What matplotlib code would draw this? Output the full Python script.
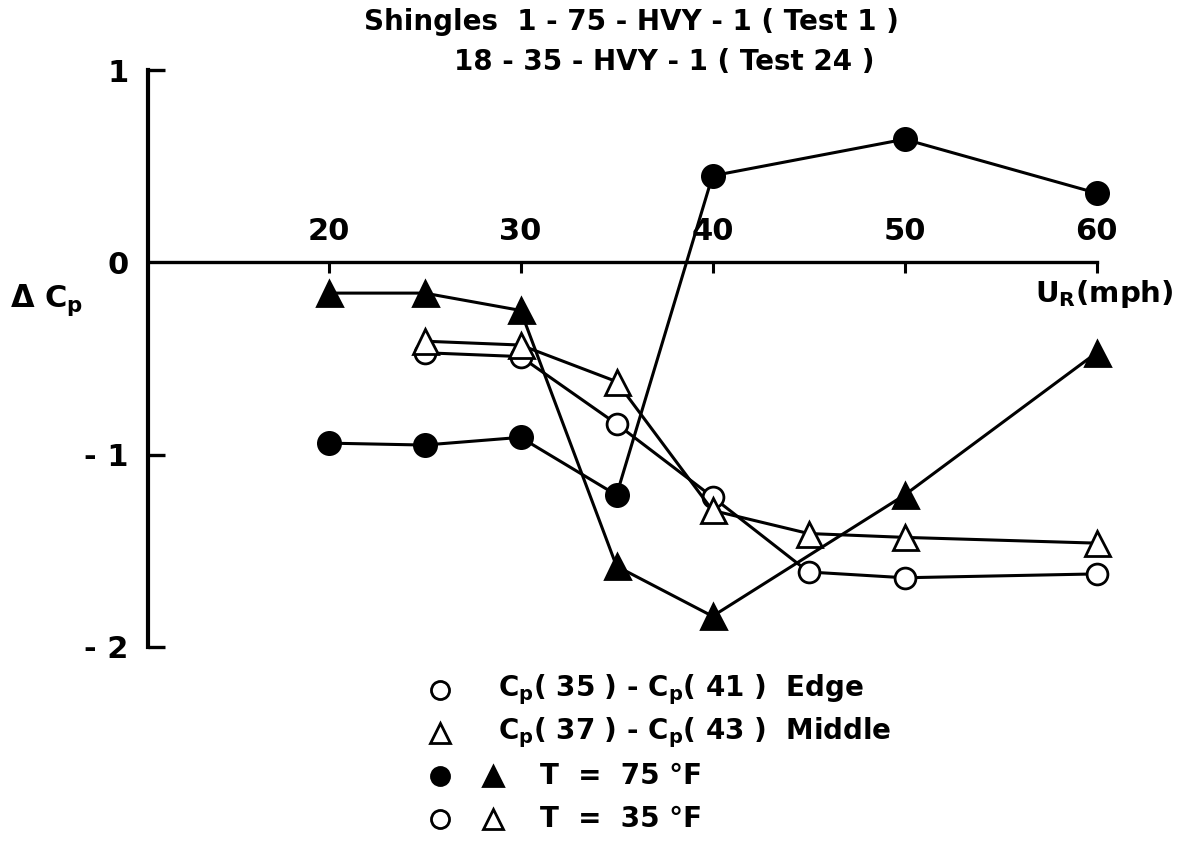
import matplotlib
matplotlib.use("Agg")
import matplotlib.pyplot as plt
from matplotlib.lines import Line2D

plt.rcParams['font.family'] = ['DejaVu Sans']
plt.rcParams['font.weight'] = 'bold'
plt.rcParams['mathtext.fontset'] = 'custom'
plt.rcParams['mathtext.rm'] = 'DejaVu Sans:bold'
plt.rcParams['mathtext.default'] = 'rm'

# wind speed (mph) and pressure-coefficient differences
speed_75 = [20, 25, 30, 35, 40, 50, 60]
edge_75 = [-0.94, -0.95, -0.91, -1.21, 0.45, 0.64, 0.36]
middle_75 = [-0.16, -0.16, -0.25, -1.58, -1.84, -1.21, -0.47]

speed_35 = [25, 30, 35, 40, 45, 50, 60]
edge_35 = [-0.47, -0.49, -0.84, -1.22, -1.61, -1.64, -1.62]
middle_35 = [-0.41, -0.43, -0.62, -1.29, -1.41, -1.43, -1.46]

x_ticks = [20, 30, 40, 50, 60]
y_ticks = [1, 0, -1, -2]
y_tick_labels = ['1', '0', '- 1', '- 2']

title_lines = ['Shingles  1 - 75 - HVY - 1 ( Test 1 )',
               '18 - 35 - HVY - 1 ( Test 24 )']
legend_rows = ['Cp( 35 ) - Cp( 41 )  Edge', 'Cp( 37 ) - Cp( 43 )  Middle',
               'T  =  75 °F', 'T  =  35 °F']

W, H = 1191, 857
fig = plt.figure(figsize=(W / 100, H / 100), dpi=100)
ax = fig.add_axes([148 / W, 1 - 647 / H, (1135 - 148) / W, (647 - 70) / H])
ax.set_xlim(10.6, 62)
ax.set_ylim(-2, 1)

lw = 2.2
common = dict(color='black', lw=lw, mew=2.0, clip_on=False)
ax.plot(speed_35, edge_35, marker='o', ms=15, mfc='white', zorder=3, **common)
ax.plot(speed_35, middle_35, marker='^', ms=18, mfc='white', zorder=3, **common)
ax.plot(speed_75, edge_75, marker='o', ms=16, mfc='black', zorder=4, **common)
ax.plot(speed_75, middle_75, marker='^', ms=18, mfc='black', zorder=4, **common)

# axes frame: vertical axis on the left, speed axis running along zero
for side in ['right', 'bottom']:
    ax.spines[side].set_visible(False)
ax.spines['left'].set_linewidth(3)
ax.spines['left'].set_bounds(-2, 1)
ax.spines['top'].set_position(('data', 0))
ax.spines['top'].set_linewidth(2.4)
ax.spines['top'].set_bounds(10.6, 60)

ax.xaxis.set_ticks_position('top')
ax.set_xticks(x_ticks)
ax.tick_params(axis='x', direction='in', length=8, width=2.2, pad=12,
               labelsize=22)
ax.set_yticks(y_ticks)
ax.set_yticklabels(y_tick_labels)
ax.tick_params(axis='y', direction='in', length=12, width=2.4, pad=14,
               labelsize=22)
ax.yaxis.get_major_ticks()[1].tick1line.set_visible(False)

ax.text(60.4, -0.08, r'U$_\mathrm{R}$(mph)', fontsize=21, ha='center', va='top')
fig.text(10 / W, 1 - 300 / H, r'$\Delta$ C$_\mathrm{p}$', fontsize=22,
         ha='left', va='center')

fig.text(631 / W, 1 - 22 / H, title_lines[0], fontsize=20, ha='center',
         va='center')
fig.text(664 / W, 1 - 62 / H, title_lines[1], fontsize=20, ha='center',
         va='center')

# key below the plot
rows_y = [690, 733, 776, 819]
key_markers = [[('o', 'white', 440)], [('^', 'white', 440)],
               [('o', 'black', 440), ('^', 'black', 493)],
               [('o', 'white', 440), ('^', 'white', 493)]]
for y, marks in zip(rows_y, key_markers):
    for m, fc, x in marks:
        fig.add_artist(Line2D([x / W], [1 - y / H], marker=m,
                              ms=13 if m == 'o' else 15, mfc=fc,
                              mec='black', mew=2.0, ls='none',
                              transform=fig.transFigure))
text_x = [498, 498, 540, 540]
for y, x, label in zip(rows_y, text_x, legend_rows):
    label = label.replace('Cp', r'C$_\mathrm{p}$')
    fig.text(x / W, 1 - y / H, label, fontsize=20, ha='left', va='center')

fig.savefig('out.png', dpi=100)
